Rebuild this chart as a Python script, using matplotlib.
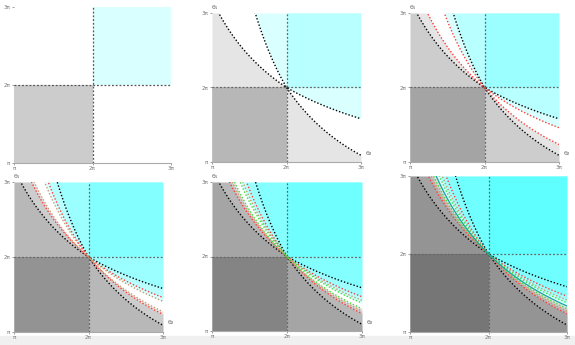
import numpy as np
import matplotlib
matplotlib.use("Agg")
import matplotlib.pyplot as plt
from matplotlib.patches import Rectangle

PI = np.pi

# curve families, one per stage; level = height (in units of pi above pi)
# where the curve meets the right edge x = 3pi (left half is the mirror image)
stage_colors = ["black", "#ff3b3b", "#c99a6a", "#3fe03f", "#17a3a3"]
stage_styles = [(0, (1, 1.4)), (0, (1, 1.4)), (0, (1, 1.4)), (0, (1, 1.4)), "-"]
upper_levels = [0.58, 0.46, 0.41, 0.375, 0.333]
lower_levels = [0.09, 0.235, 0.27, 0.30, 0.333]
panel_stages = [0, 1, 2, 3, 4, 5]          # number of stages drawn in each panel

tick_vals = [PI, 2 * PI, 3 * PI]
tick_text = ["π", "2π", "3π"]

# axes boxes in pixels: left, right, top, bottom
boxes = [(14, 171, 7, 163), (212, 361, 13, 162), (410, 559, 13, 162),
         (14, 163, 182, 332), (212, 362, 182, 331), (410, 567, 176, 332)]

W, H = 575, 345
fig = plt.figure(figsize=(W / 100, H / 100), dpi=100)
fig.patch.set_facecolor("white")
fig.patches.append(Rectangle((0, 0), 1, 9 / H, transform=fig.transFigure,
                             color="#f0f0f0", zorder=-5))


def curve(level, x):
    # power curve through (2pi, 2pi): y = 2pi (2pi/x)^k right of centre,
    # mirrored about y = x on the left
    k = np.log((1 + level) / 2) / np.log(2 / 3)
    e = np.where(x >= 2 * PI, k, 1 / k)
    return 2 * PI * (2 * PI / x) ** e


x = np.linspace(PI, 3 * PI, 801)

for i, (l, r, t, b) in enumerate(boxes):
    ax = fig.add_axes([l / W, 1 - b / H, (r - l) / W, (b - t) / H])
    ax.patch.set_alpha(0)
    ax.set_xlim(PI, 3 * PI)
    ax.set_ylim(PI, 3 * PI)

    # base squares
    ax.add_patch(Rectangle((PI, PI), PI, PI, color="black", alpha=0.2, lw=0))
    ax.add_patch(Rectangle((2 * PI, 2 * PI), PI, PI, color="cyan", alpha=0.15, lw=0))

    n = panel_stages[i]
    for s in range(n):
        yu = np.clip(curve(upper_levels[s], x), PI, 3 * PI)
        yl = np.clip(curve(lower_levels[s], x), PI, 3 * PI)
        ax.fill_between(x, yl, PI, color="black", alpha=0.1, lw=0)
        ax.fill_between(x, yu, 3 * PI, color="cyan", alpha=0.15, lw=0)

    gc = "#555555" if i == 0 else "#666666"
    ax.axvline(2 * PI, color=gc, lw=0.9, ls=(0, (1.5, 1.5)))
    ax.axhline(2 * PI, color=gc, lw=0.9, ls=(0, (1.5, 1.5)))

    for s in range(n):
        for lev in sorted({upper_levels[s], lower_levels[s]}):
            ax.plot(x, curve(lev, x), color=stage_colors[s], ls=stage_styles[s],
                    lw=1.0 if s < 4 else 0.9)

    for sp in ["top", "right", "left"]:
        ax.spines[sp].set_visible(False)
    ax.spines["bottom"].set_color("#aaaaaa")
    ax.spines["bottom"].set_linewidth(0.8)
    ax.set_xticks(tick_vals, tick_text)
    ax.set_yticks(tick_vals, tick_text)
    ax.tick_params(labelsize=4, colors="#777777", length=1.5, width=0.5, pad=1)

    if 0 < i < 5:
        ax.text(0.0, 1.02, "θ₁", transform=ax.transAxes, fontsize=4.5,
                color="#666666", ha="left", va="bottom")
        ax.text(1.03, 0.06, "θ₂", transform=ax.transAxes, fontsize=4.5,
                color="#666666", ha="left", va="center")

fig.savefig("out.png", dpi=100, facecolor="white")
